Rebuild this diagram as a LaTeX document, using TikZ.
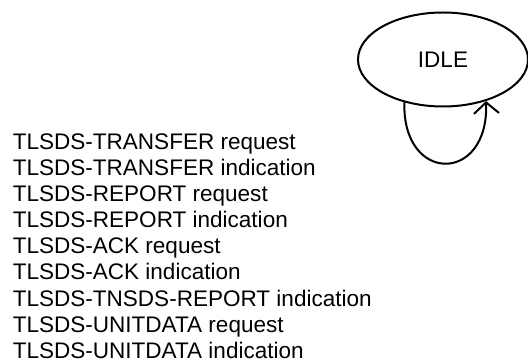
\documentclass[tikz,border=0pt]{standalone}
\usepackage{fontspec}
\setmainfont{Liberation Sans}
\usetikzlibrary{shapes.geometric,arrows.meta}
\begin{document}
\begin{tikzpicture}[x=0.75pt,y=-0.75pt,
  statebox/.style={draw,ellipse,line width=1.5pt,minimum width=127.5pt,minimum height=70.5pt,inner sep=0pt,font=\fontsize{16.9}{19.5}\selectfont},
  primlabel/.style={anchor=base west,inner sep=0pt,font=\fontsize{16.9}{19.5}\selectfont},
  loopline/.style={line width=1.5pt,-{Straight Barb[length=8.25pt,width=18.75pt,line width=1.5pt]}}]
\path[use as bounding box] (0,0) rectangle (528,363);
\node[statebox] (idle) at (443,59.5) {IDLE};
\draw[loopline] (idle.228) .. controls (402,184) and (489,184) .. (idle.316);
\foreach \i/\t in {1/TLSDS-TRANSFER request,2/TLSDS-TRANSFER indication,3/TLSDS-REPORT request,4/TLSDS-REPORT indication,5/TLSDS-ACK request,6/TLSDS-ACK indication,7/TLSDS-TNSDS-REPORT indication,8/TLSDS-UNITDATA request,9/TLSDS-UNITDATA indication}
  \node[primlabel] (l\i) at (12.5,{150+26*(\i-1)}) {\t};
\end{tikzpicture}
\end{document}
